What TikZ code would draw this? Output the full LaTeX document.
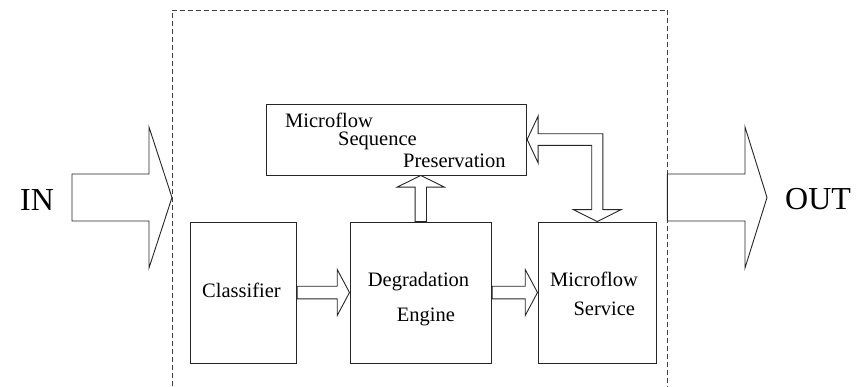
\documentclass[tikz,border=0pt]{standalone}
\usepackage{fontspec}
\setmainfont{Liberation Serif}
\usetikzlibrary{calc}

% block arrow pointing right: start, tip, shaft half-width, head half-width, head length
\newcommand\fatright[5]{%
  \draw[fat] ($(#1)+(0,-#3)$) -- ($(#2)+(-#5,-#3)$) -- ($(#2)+(-#5,-#4)$) -- (#2)
    -- ($(#2)+(-#5,#4)$) -- ($(#2)+(-#5,#3)$) -- ($(#1)+(0,#3)$) -- cycle;}
% block arrow pointing up: start, tip, shaft half-width, head half-width, head length
\newcommand\fatup[5]{%
  \draw[fat] ($(#1)+(-#3,0)$) -- ($(#2)+(-#3,#5)$) -- ($(#2)+(-#4,#5)$) -- (#2)
    -- ($(#2)+(#4,#5)$) -- ($(#2)+(#3,#5)$) -- ($(#1)+(#3,0)$) -- cycle;}

\begin{document}
\begin{tikzpicture}[x=1pt,y=-1pt,
  line join=miter,
  outline/.style={draw=black!85, line width=0.9pt},
  box/.style={outline, inner sep=0pt, minimum height=141pt},
  fat/.style={outline, fill=white},
  lbl/.style={anchor=base west, inner sep=0pt, font=\fontsize{20.5}{24}\selectfont},
  big/.style={anchor=base west, inner sep=0pt, font=\fontsize{32}{38}\selectfont},
  frameline/.style={draw=black!75, line width=0.9pt, dash pattern=on 5pt off 3pt}]
\useasboundingbox (0,0) rectangle (867,386);

% dashed frame, open at the bottom
\node[inner sep=0pt, minimum width=495pt, minimum height=376pt, anchor=north west] (frame) at (172,10) {};
\draw[frameline] (frame.south west) -- (frame.north west) -- (frame.north east) -- (frame.south east);

% processing blocks
\node[box, minimum width=106pt] (cls) at (243.7,292.5) {};
\node[box, minimum width=141.7pt] (deg) at (420.8,292.5) {};
\node[box, minimum width=118.7pt] (svc) at (597.3,292.5) {};
\node[outline, inner sep=0pt, minimum width=260pt, minimum height=71pt] (msp) at (396.7,139.5) {};

% block labels
\node[lbl] (clsT) at (202,297.3) {Classifier};
\node[lbl] (degT1) at (367.7,286) {Degradation};
\node[lbl] (degT2) at (396.7,321.7) {Engine};
\node[lbl] (svcT1) at (550,286) {Microflow};
\node[lbl] (svcT2) at (573.3,315) {Service};
\node[lbl] (mspT1) at (285,127.3) {Microflow};
\node[lbl] (mspT2) at (338,145) {Sequence};
\node[lbl] (mspT3) at (403,167.3) {Preservation};

% input and output
\node[big] (in) at (20,210) {IN};
\node[big] (out) at (785,209.3) {OUT};
\coordinate (inS) at (72,197.5);
\coordinate (outTip) at (767,197.5);
\fatright{inS}{frame.west |- inS}{23.5}{70.5}{23}
\fatright{frame.east |- outTip}{outTip}{23.5}{70.5}{22}

% internal flow
\fatright{cls.east}{deg.west}{6.3}{23}{12.3}
\fatright{deg.east}{svc.west}{6.3}{23}{12.3}
\fatup{deg.north}{msp.south -| deg.north}{5.7}{23.7}{11.7}

% two-way link between the service and the sequence block
\coordinate (bend) at (svc.north |- msp.east);
\draw[fat] (msp.east) -- ($(msp.east)+(11,-23.5)$) -- ($(msp.east)+(11,-5.8)$)
  -- ($(bend)+(5.6,-5.8)$) -- ($(svc.north)+(5.6,-12)$) -- ($(svc.north)+(24,-12)$)
  -- (svc.north) -- ($(svc.north)+(-24,-12)$) -- ($(svc.north)+(-5.6,-12)$)
  -- ($(bend)+(-5.6,5.8)$) -- ($(msp.east)+(11,5.8)$) -- ($(msp.east)+(11,23.5)$) -- cycle;
\end{tikzpicture}
\end{document}
